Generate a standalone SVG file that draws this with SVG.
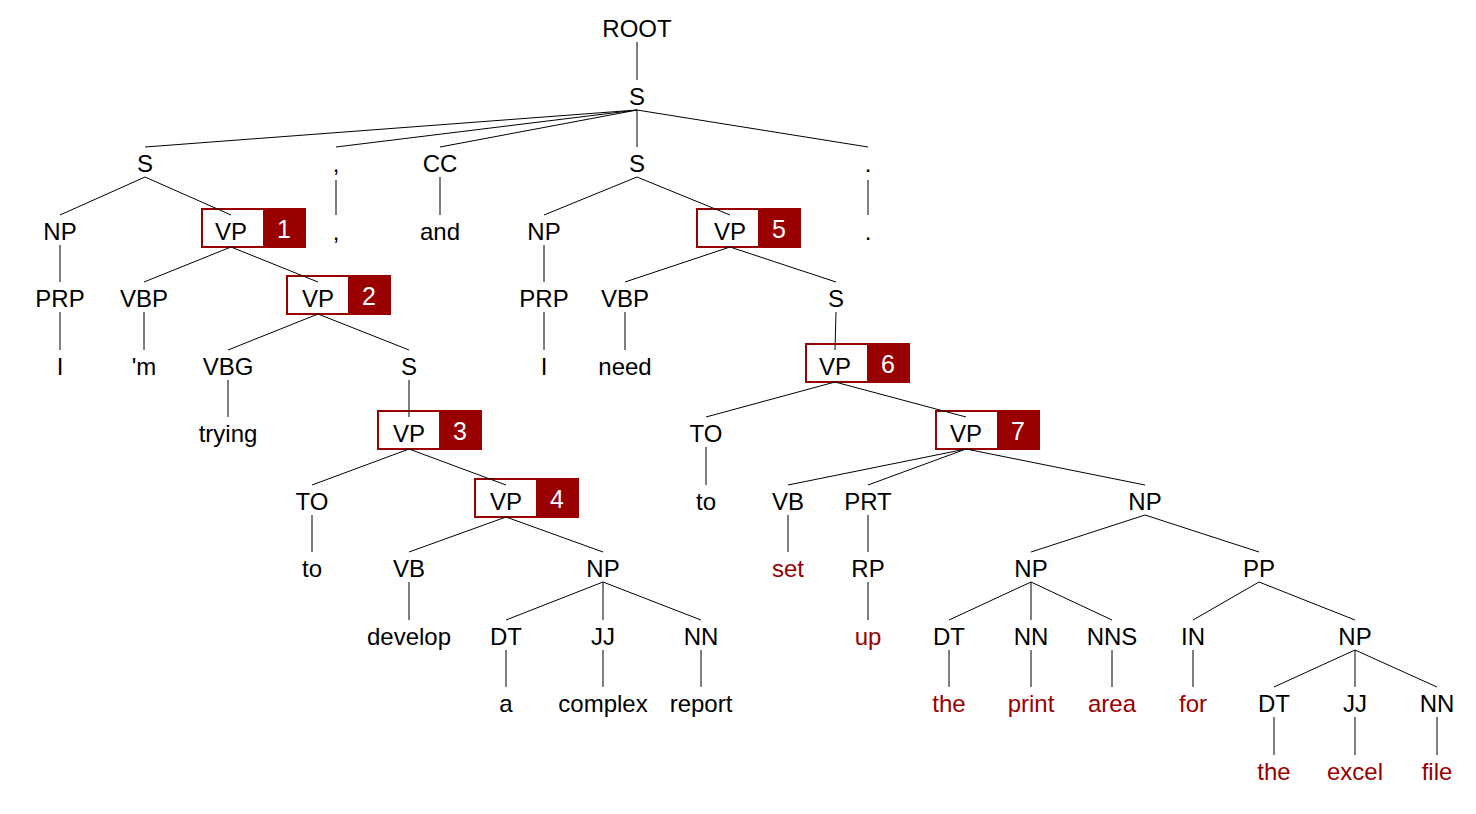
<svg xmlns="http://www.w3.org/2000/svg" width="1476" height="814" viewBox="0 0 1476 814">
<style>
text{font-family:"Liberation Sans",Arial,sans-serif;font-size:24px;text-anchor:middle;fill:#000}
text.w{fill:#990000}
text.n{fill:#fff;font-size:25px}
.box{fill:#fff;stroke:#990000;stroke-width:2}
.tag{fill:#990000}
#edges line{stroke:#000;stroke-width:1}
</style>
<rect width="1476" height="814" fill="#fff"/>
<g id="n-root"><text x="637" y="37">ROOT</text></g>
<g id="n-s0"><text x="637" y="105">S</text></g>
<g id="n-s1"><text x="145" y="172">S</text></g>
<g id="n-comma-p"><text x="336" y="172">,</text></g>
<g id="n-cc"><text x="440" y="172">CC</text></g>
<g id="n-s2"><text x="637" y="172">S</text></g>
<g id="n-dot-p"><text x="868" y="172">.</text></g>
<g id="n-np1"><text x="60" y="240">NP</text></g>
<g id="n-vp1"><rect class="box" x="202" y="209" width="103" height="38"/><rect class="tag" x="263" y="209" width="42" height="38"/><text x="231" y="240">VP</text><text class="n" x="284" y="238">1</text></g>
<g id="n-comma"><text x="336" y="240">,</text></g>
<g id="n-and"><text x="440" y="240">and</text></g>
<g id="n-np2"><text x="544" y="240">NP</text></g>
<g id="n-vp5"><rect class="box" x="697" y="209" width="103" height="38"/><rect class="tag" x="758" y="209" width="42" height="38"/><text x="730" y="240">VP</text><text class="n" x="779" y="238">5</text></g>
<g id="n-dot"><text x="868" y="240">.</text></g>
<g id="n-prp1"><text x="60" y="307">PRP</text></g>
<g id="n-vbp1"><text x="144" y="307">VBP</text></g>
<g id="n-vp2"><rect class="box" x="287" y="276" width="103" height="38"/><rect class="tag" x="348" y="276" width="42" height="38"/><text x="318" y="307">VP</text><text class="n" x="369" y="305">2</text></g>
<g id="n-prp2"><text x="544" y="307">PRP</text></g>
<g id="n-vbp2"><text x="625" y="307">VBP</text></g>
<g id="n-s3"><text x="836" y="307">S</text></g>
<g id="n-i1"><text x="60" y="375">I</text></g>
<g id="n-m"><text x="144" y="375">'m</text></g>
<g id="n-vbg"><text x="228" y="375">VBG</text></g>
<g id="n-s4"><text x="409" y="375">S</text></g>
<g id="n-i2"><text x="544" y="375">I</text></g>
<g id="n-need"><text x="625" y="375">need</text></g>
<g id="n-vp6"><rect class="box" x="806" y="344" width="103" height="38"/><rect class="tag" x="867" y="344" width="42" height="38"/><text x="835" y="375">VP</text><text class="n" x="888" y="373">6</text></g>
<g id="n-trying"><text x="228" y="442">trying</text></g>
<g id="n-vp3"><rect class="box" x="378" y="411" width="103" height="38"/><rect class="tag" x="439" y="411" width="42" height="38"/><text x="409" y="442">VP</text><text class="n" x="460" y="440">3</text></g>
<g id="n-to2"><text x="706" y="442">TO</text></g>
<g id="n-vp7"><rect class="box" x="936" y="411" width="103" height="38"/><rect class="tag" x="997" y="411" width="42" height="38"/><text x="966" y="442">VP</text><text class="n" x="1018" y="440">7</text></g>
<g id="n-to1"><text x="312" y="510">TO</text></g>
<g id="n-vp4"><rect class="box" x="475" y="479" width="103" height="38"/><rect class="tag" x="536" y="479" width="42" height="38"/><text x="506" y="510">VP</text><text class="n" x="557" y="508">4</text></g>
<g id="n-to2w"><text x="706" y="510">to</text></g>
<g id="n-vb2"><text x="788" y="510">VB</text></g>
<g id="n-prt"><text x="868" y="510">PRT</text></g>
<g id="n-np3"><text x="1145" y="510">NP</text></g>
<g id="n-to1w"><text x="312" y="577">to</text></g>
<g id="n-vb1"><text x="409" y="577">VB</text></g>
<g id="n-np4"><text x="603" y="577">NP</text></g>
<g id="n-set"><text class="w" x="788" y="577">set</text></g>
<g id="n-rp"><text x="868" y="577">RP</text></g>
<g id="n-np5"><text x="1031" y="577">NP</text></g>
<g id="n-pp"><text x="1259" y="577">PP</text></g>
<g id="n-develop"><text x="409" y="645">develop</text></g>
<g id="n-dt1"><text x="506" y="645">DT</text></g>
<g id="n-jj1"><text x="603" y="645">JJ</text></g>
<g id="n-nn1"><text x="701" y="645">NN</text></g>
<g id="n-up"><text class="w" x="868" y="645">up</text></g>
<g id="n-dt2"><text x="949" y="645">DT</text></g>
<g id="n-nn2"><text x="1031" y="645">NN</text></g>
<g id="n-nns"><text x="1112" y="645">NNS</text></g>
<g id="n-in"><text x="1193" y="645">IN</text></g>
<g id="n-np6"><text x="1355" y="645">NP</text></g>
<g id="n-a"><text x="506" y="712">a</text></g>
<g id="n-complex"><text x="603" y="712">complex</text></g>
<g id="n-report"><text x="701" y="712">report</text></g>
<g id="n-the1"><text class="w" x="949" y="712">the</text></g>
<g id="n-print"><text class="w" x="1031" y="712">print</text></g>
<g id="n-area"><text class="w" x="1112" y="712">area</text></g>
<g id="n-for"><text class="w" x="1193" y="712">for</text></g>
<g id="n-dt3"><text x="1274" y="712">DT</text></g>
<g id="n-jj2"><text x="1355" y="712">JJ</text></g>
<g id="n-nn3"><text x="1437" y="712">NN</text></g>
<g id="n-the2"><text class="w" x="1274" y="780">the</text></g>
<g id="n-excel"><text class="w" x="1355" y="780">excel</text></g>
<g id="n-file"><text class="w" x="1437" y="780">file</text></g>
<g id="edges">
<line x1="637" y1="42" x2="637" y2="80"/>
<line x1="637" y1="110" x2="145" y2="147"/>
<line x1="637" y1="110" x2="336" y2="147"/>
<line x1="637" y1="110" x2="440" y2="147"/>
<line x1="637" y1="110" x2="637" y2="147"/>
<line x1="637" y1="110" x2="868" y2="147"/>
<line x1="145" y1="177" x2="60" y2="215"/>
<line x1="145" y1="177" x2="231" y2="215"/>
<line x1="336" y1="180" x2="336" y2="215"/>
<line x1="440" y1="177" x2="440" y2="215"/>
<line x1="637" y1="177" x2="544" y2="215"/>
<line x1="637" y1="177" x2="730" y2="215"/>
<line x1="868" y1="180" x2="868" y2="215"/>
<line x1="60" y1="245" x2="60" y2="282"/>
<line x1="231" y1="247" x2="144" y2="282"/>
<line x1="231" y1="247" x2="318" y2="282"/>
<line x1="544" y1="245" x2="544" y2="282"/>
<line x1="730" y1="247" x2="625" y2="282"/>
<line x1="730" y1="247" x2="836" y2="282"/>
<line x1="60" y1="312" x2="60" y2="350"/>
<line x1="144" y1="312" x2="144" y2="350"/>
<line x1="318" y1="314" x2="228" y2="350"/>
<line x1="318" y1="314" x2="409" y2="350"/>
<line x1="544" y1="312" x2="544" y2="350"/>
<line x1="625" y1="312" x2="625" y2="350"/>
<line x1="836" y1="312" x2="835" y2="350"/>
<line x1="228" y1="380" x2="228" y2="417"/>
<line x1="409" y1="380" x2="409" y2="417"/>
<line x1="835" y1="382" x2="706" y2="417"/>
<line x1="835" y1="382" x2="966" y2="417"/>
<line x1="409" y1="449" x2="312" y2="485"/>
<line x1="409" y1="449" x2="506" y2="485"/>
<line x1="706" y1="447" x2="706" y2="485"/>
<line x1="966" y1="449" x2="788" y2="485"/>
<line x1="966" y1="449" x2="868" y2="485"/>
<line x1="966" y1="449" x2="1145" y2="485"/>
<line x1="312" y1="515" x2="312" y2="552"/>
<line x1="506" y1="517" x2="409" y2="552"/>
<line x1="506" y1="517" x2="603" y2="552"/>
<line x1="788" y1="515" x2="788" y2="552"/>
<line x1="868" y1="515" x2="868" y2="552"/>
<line x1="1145" y1="515" x2="1031" y2="552"/>
<line x1="1145" y1="515" x2="1259" y2="552"/>
<line x1="409" y1="582" x2="409" y2="620"/>
<line x1="603" y1="582" x2="506" y2="620"/>
<line x1="603" y1="582" x2="603" y2="620"/>
<line x1="603" y1="582" x2="701" y2="620"/>
<line x1="868" y1="582" x2="868" y2="620"/>
<line x1="1031" y1="582" x2="949" y2="620"/>
<line x1="1031" y1="582" x2="1031" y2="620"/>
<line x1="1031" y1="582" x2="1112" y2="620"/>
<line x1="1259" y1="582" x2="1193" y2="620"/>
<line x1="1259" y1="582" x2="1355" y2="620"/>
<line x1="506" y1="650" x2="506" y2="687"/>
<line x1="603" y1="650" x2="603" y2="687"/>
<line x1="701" y1="650" x2="701" y2="687"/>
<line x1="949" y1="650" x2="949" y2="687"/>
<line x1="1031" y1="650" x2="1031" y2="687"/>
<line x1="1112" y1="650" x2="1112" y2="687"/>
<line x1="1193" y1="650" x2="1193" y2="687"/>
<line x1="1355" y1="650" x2="1274" y2="687"/>
<line x1="1355" y1="650" x2="1355" y2="687"/>
<line x1="1355" y1="650" x2="1437" y2="687"/>
<line x1="1274" y1="717" x2="1274" y2="755"/>
<line x1="1355" y1="717" x2="1355" y2="755"/>
<line x1="1437" y1="717" x2="1437" y2="755"/>
</g>
</svg>
